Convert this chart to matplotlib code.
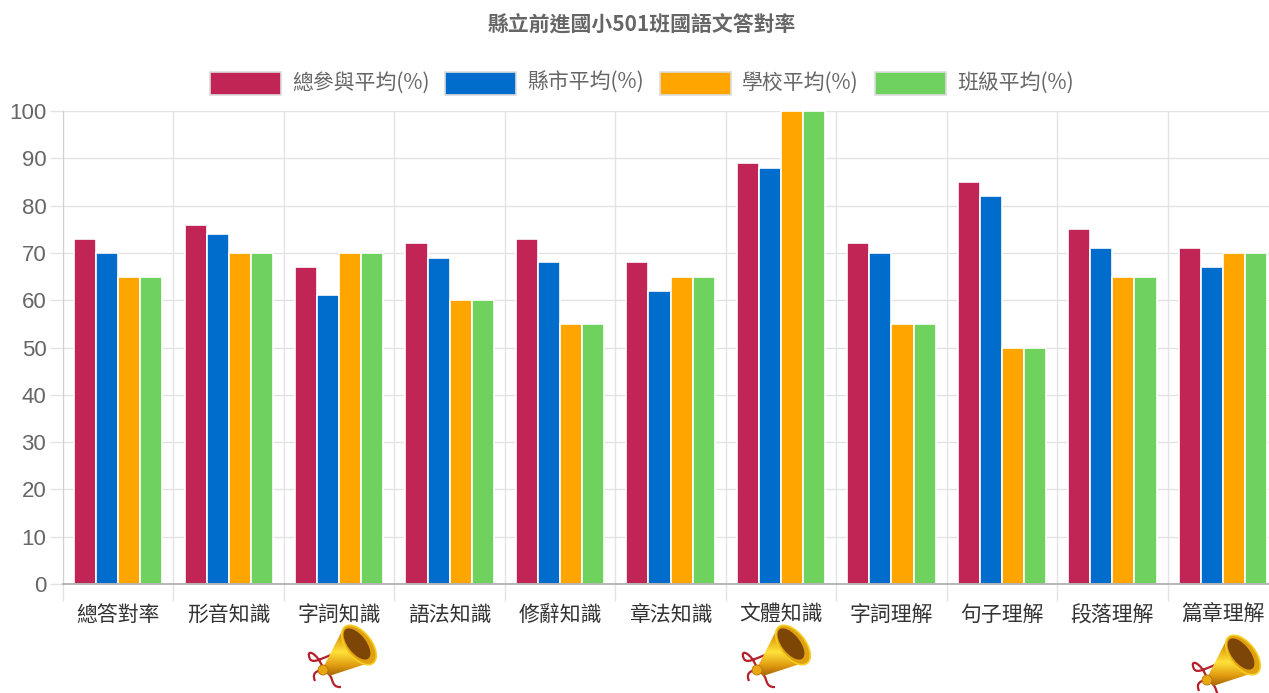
import numpy as np
import matplotlib
matplotlib.use('Agg')
import matplotlib.pyplot as plt
from matplotlib.patches import Rectangle, Polygon, Ellipse, Circle, PathPatch
from matplotlib.path import Path
from matplotlib.colors import LinearSegmentedColormap

plt.rcParams['font.family'] = ['Noto Sans CJK TC', 'DejaVu Sans']

categories = ['總答對率', '形音知識', '字詞知識', '語法知識', '修辭知識', '章法知識',
              '文體知識', '字詞理解', '句子理解', '段落理解', '篇章理解']
series_names = ['總參與平均(%)', '縣市平均(%)', '學校平均(%)', '班級平均(%)']
overall = [73, 76, 67, 72, 73, 68, 89, 72, 85, 75, 71]
county = [70, 74, 61, 69, 68, 62, 88, 70, 82, 71, 67]
school = [65, 70, 70, 60, 55, 65, 100, 55, 50, 65, 70]
klass = [65, 70, 70, 60, 55, 65, 100, 55, 50, 65, 70]
colors = ['#C02555', '#006DCC', '#FFA500', '#6FD25E']
title = '縣立前進國小501班國語文答對率'

W, H = 1269, 693
fig = plt.figure(figsize=(W / 100, H / 100), dpi=100)
# plot area runs a bit past the right edge, the reference is cropped there
ax = fig.add_axes([63 / W, 1 - 584 / H, (1278 - 63) / W, (584 - 111) / H])

x = np.arange(len(categories)) + 0.5
for i, vals in enumerate([overall, county, school, klass]):
    ax.bar(x + (i - 1.5) * 0.2, vals, width=0.2, color=colors[i],
           edgecolor='#ffffff', linewidth=1.2, zorder=3)

ax.set_xlim(0, len(categories))
ax.set_ylim(0, 100)
ax.set_yticks(np.arange(0, 101, 10))
ax.set_xticks(np.arange(len(categories) + 1))
ax.set_xticklabels([])
ax.set_xticks(x, minor=True)
ax.set_xticklabels(categories, minor=True, fontsize=15, color='#333333')
ax.grid(True, color='#e3e3e3', linewidth=1, zorder=0)
ax.tick_params(axis='x', which='major', length=12.5, color='#e3e3e3', width=1)
ax.tick_params(axis='x', which='minor', length=0, pad=14.5)
ax.tick_params(axis='y', length=9.5, color='#e3e3e3', width=1, pad=2.5,
               labelsize=16, labelcolor='#666666')
for lab in ax.get_yticklabels():
    lab.set_fontfamily(['Liberation Sans'])
for s in ['top', 'right', 'bottom']:
    ax.spines[s].set_visible(False)
ax.spines['left'].set_color('#d0d0d0')
ax.axhline(0, color='#aaaaaa', linewidth=1.2, zorder=4, clip_on=False)

# overlay in pixel coordinates for title, legend and the icons
ov = fig.add_axes([0, 0, 1, 1], facecolor='none')
ov.axis('off')

ov.text(642, 25, title, ha='center', va='center', fontsize=15, fontweight='bold', color='#666666')

legend_x = [210, 445, 660, 875]
for lx, name, c in zip(legend_x, series_names, colors):
    ov.add_patch(Rectangle((lx, 72), 71, 23, facecolor=c, edgecolor='#dddddd', linewidth=1.2))
    ov.text(lx + 82, 83, name, ha='left', va='center', fontsize=15, color='#666666')

gold = LinearSegmentedColormap.from_list('gold', ['#A8640A', '#E0A010', '#FFE23A', '#E09A10', '#8E5206'])


def draw_horn(px, py):
    body = Polygon([(px + 14, py + 44), (px + 35, py + 3), (px + 63, py + 38), (px + 20, py + 52)],
                   closed=True, facecolor='none', edgecolor='none')
    ov.add_patch(body)
    grad = np.linspace(0, 1, 64).reshape(-1, 1)
    im = ov.imshow(grad, cmap=gold, extent=(px + 14, px + 67, py + 56, py), aspect='auto', zorder=2)
    im.set_clip_path(body)
    ov.add_patch(Ellipse((px + 50, py + 21), 25, 46, angle=-38, facecolor='#E0A010',
                         edgecolor='#F6CE20', linewidth=1.2, zorder=3))
    ov.add_patch(Ellipse((px + 48, py + 20), 18, 37, angle=-38, facecolor='#7E4606',
                         edgecolor='none', zorder=3))
    ov.add_patch(Circle((px + 14, py + 46), 5, facecolor='#E8A812', edgecolor='#B8720A',
                        linewidth=0.6, zorder=4))
    # ribbons
    loop = Path([(px + 14, py + 44), (px + 8, py + 28), (px - 4, py + 24), (px + 1, py + 35),
                 (px + 4, py + 40), (px + 14, py + 34), (px + 24, py + 30)],
                [Path.MOVETO, Path.CURVE4, Path.CURVE4, Path.CURVE4, Path.CURVE4, Path.CURVE4, Path.CURVE4])
    tail1 = Path([(px + 12, py + 46), (px + 4, py + 48), (px + 4, py + 52), (px + 6, py + 57)],
                 [Path.MOVETO, Path.CURVE4, Path.CURVE4, Path.CURVE4])
    tail2 = Path([(px + 16, py + 48), (px + 26, py + 50), (px + 20, py + 64), (px + 32, py + 63)],
                 [Path.MOVETO, Path.CURVE4, Path.CURVE4, Path.CURVE4])
    for p in (loop, tail1, tail2):
        ov.add_patch(PathPatch(p, facecolor='none', edgecolor='#B5202A', linewidth=1.6, zorder=1))


for hx, hy in [(309, 624), (743, 624), (1193, 634)]:
    draw_horn(hx, hy)
ov.set_xlim(0, W)
ov.set_ylim(H, 0)

fig.savefig('out.png', dpi=100, facecolor='white')
